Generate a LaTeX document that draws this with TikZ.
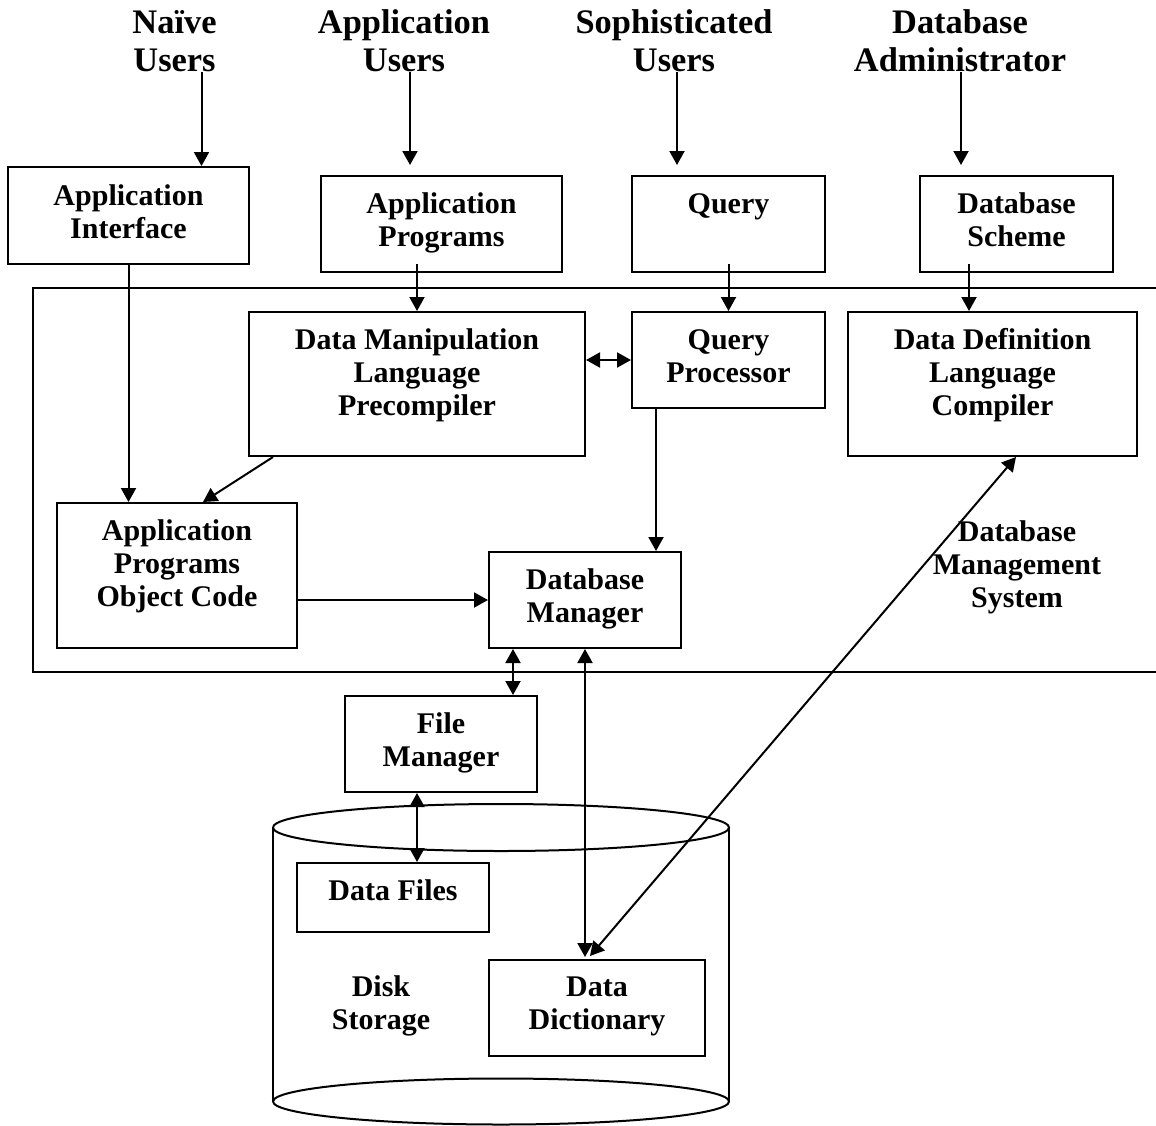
\documentclass[tikz,border=0pt]{standalone}
\usepackage{fontspec}
\setmainfont{Liberation Serif}
\usetikzlibrary{arrows.meta,fit}
\newcommand\mlines[1]{\begin{tabular}[t]{@{}c@{}}#1\end{tabular}}
\begin{document}
\begin{tikzpicture}[x=0.5pt,y=-0.5pt,
  bx/.style={draw, line width=1pt, inner sep=0pt, fill=white},
  frame/.style={draw, line width=1pt, inner sep=0pt},
  tx/.style={anchor=base, inner sep=0pt, font=\fontsize{15}{16.5}\selectfont\bfseries},
  ux/.style={anchor=base, inner sep=0pt, font=\fontsize{17.2}{19}\selectfont\bfseries},
  cyl/.style={line width=1pt},
  arr/.style={line width=1pt, -{Triangle[length=7pt,width=7.5pt]}},
  darr/.style={line width=1pt, {Triangle[length=7pt,width=7.5pt]}-{Triangle[length=7pt,width=7.5pt]}}]
\useasboundingbox (0,0) rectangle (1156,1125);
\clip (0,0) rectangle (1156,1125);
\fill[white] (0,0) rectangle (1156,1125);

% top user labels
\node[ux] (nu) at (174.5,33) {\mlines{Naïve\\Users}};
\node[ux] (au) at (404,33) {\mlines{Application\\Users}};
\node[ux] (su) at (674,33) {\mlines{Sophisticated\\Users}};
\node[ux] (da) at (960,33) {\mlines{Database\\Administrator}};
\coordinate (nu-s) at (201.5,72);
\coordinate (au-s) at (410,72);
\coordinate (su-s) at (677,72);
\coordinate (da-s) at (961,72);

% DBMS frame
\node[frame, fit={(33,288) (1175,672)}] (dbms) {};
\node[tx] (dbms-t) at (1017,541) {\mlines{Database\\Management\\System}};

% upper boxes
\node[bx, fit={(8,167) (249,264)}] (ai) {};
\node[tx] (ai-t) at (ai.north |- 0,205) {\mlines{Application\\Interface}};
\node[bx, fit={(321,176) (562,272)}] (ap) {};
\node[tx] (ap-t) at (ap.north |- 0,213) {\mlines{Application\\Programs}};
\node[bx, fit={(632,176) (825,272)}] (qu) {};
\node[tx] (qu-t) at (qu.north |- 0,213) {Query};
\node[bx, fit={(920,176) (1113,272)}] (dbs) {};
\node[tx] (dbs-t) at (dbs.north |- 0,213) {\mlines{Database\\Scheme}};

% boxes inside DBMS
\node[bx, fit={(249,312) (585,456)}] (dml) {};
\node[tx] (dml-t) at (dml.north |- 0,349) {\mlines{Data Manipulation\\Language\\Precompiler}};
\node[bx, fit={(632,312) (825,408)}] (qp) {};
\node[tx] (qp-t) at (qp.north |- 0,349.5) {\mlines{Query\\Processor}};
\node[bx, fit={(848,312) (1137,456)}] (ddl) {};
\node[tx] (ddl-t) at (ddl.north |- 0,349) {\mlines{Data Definition\\Language\\Compiler}};
\node[bx, fit={(57,503) (297,648)}] (apoc) {};
\node[tx] (apoc-t) at (apoc.north |- 0,540) {\mlines{Application\\Programs\\Object Code}};
\node[bx, fit={(489,552) (681,648)}] (dbm) {};
\node[tx] (dbm-t) at (dbm.north |- 0,589.5) {\mlines{Database\\Manager}};

% file manager
\node[bx, fit={(345,696) (537,792)}] (fm) {};
\node[tx] (fm-t) at (fm.north |- 0,733.5) {\mlines{File\\Manager}};

% disk storage cylinder
\draw[cyl] (273,827.5) -- (273,1101.5);
\draw[cyl] (729,827.5) -- (729,1101.5);
\draw[cyl] (501,827.5) ellipse [x radius=114pt, y radius=11.75pt];
\draw[cyl] (501,1101.5) ellipse [x radius=114pt, y radius=11.5pt];
\node[tx] (ds-t) at (381,996) {\mlines{Disk\\Storage}};
\node[bx, fit={(297,863) (489,932)}] (df) {};
\node[tx] (df-t) at (df.north |- 0,900) {Data Files};
\node[bx, fit={(489,960) (705,1056)}] (dd) {};
\node[tx] (dd-t) at (dd.north |- 0,996) {\mlines{Data\\Dictionary}};

% connectors from users
\draw[arr] (nu-s) -- ([xshift=36.5pt]ai.north);
\draw[arr] (au-s) -- ([xshift=-15.75pt,yshift=5pt]ap.north);
\draw[arr] (su-s) -- ([xshift=-25.75pt,yshift=5pt]qu.north);
\draw[arr] (da-s) -- ([xshift=-27.75pt,yshift=5pt]dbs.north);

% connectors into DBMS
\draw[arr] (ai.south) -- (ai.south |- apoc.north);
\draw[arr] ([xshift=-12.25pt,yshift=4.5pt]ap.south) -- (dml.north);
\draw[arr] ([yshift=4.5pt]qu.south) -- (qp.north);
\draw[arr] ([xshift=-23.75pt,yshift=4.5pt]dbs.south) -- ([xshift=-11.75pt]ddl.north);

% inside DBMS
\draw[darr] (qp.west -| dml.east) -- (qp.west);
\draw[arr] ([xshift=-72pt]dml.south) -- ([xshift=13pt]apoc.north);
\coordinate (qp-o) at ([xshift=-36.25pt]qp.south);
\draw[arr] (qp-o) -- (qp-o |- dbm.north);
\draw[arr] (dbm.west -| apoc.east) -- (dbm.west);

% lower connectors
\coordinate (dbm-o) at ([xshift=-36pt]dbm.south);
\draw[darr] (dbm-o) -- (dbm-o |- fm.north);
\draw[darr] (dbm.south) -- ([yshift=1pt]dbm.south |- dd.north);
\coordinate (fm-o) at ([xshift=-12pt]fm.south);
\draw[darr] (fm-o) -- (fm-o |- df.north);
\draw[darr] ([xshift=11.75pt]ddl.south) -- ([xshift=-3.5pt,yshift=1.5pt]dd.north);
\end{tikzpicture}
\end{document}
